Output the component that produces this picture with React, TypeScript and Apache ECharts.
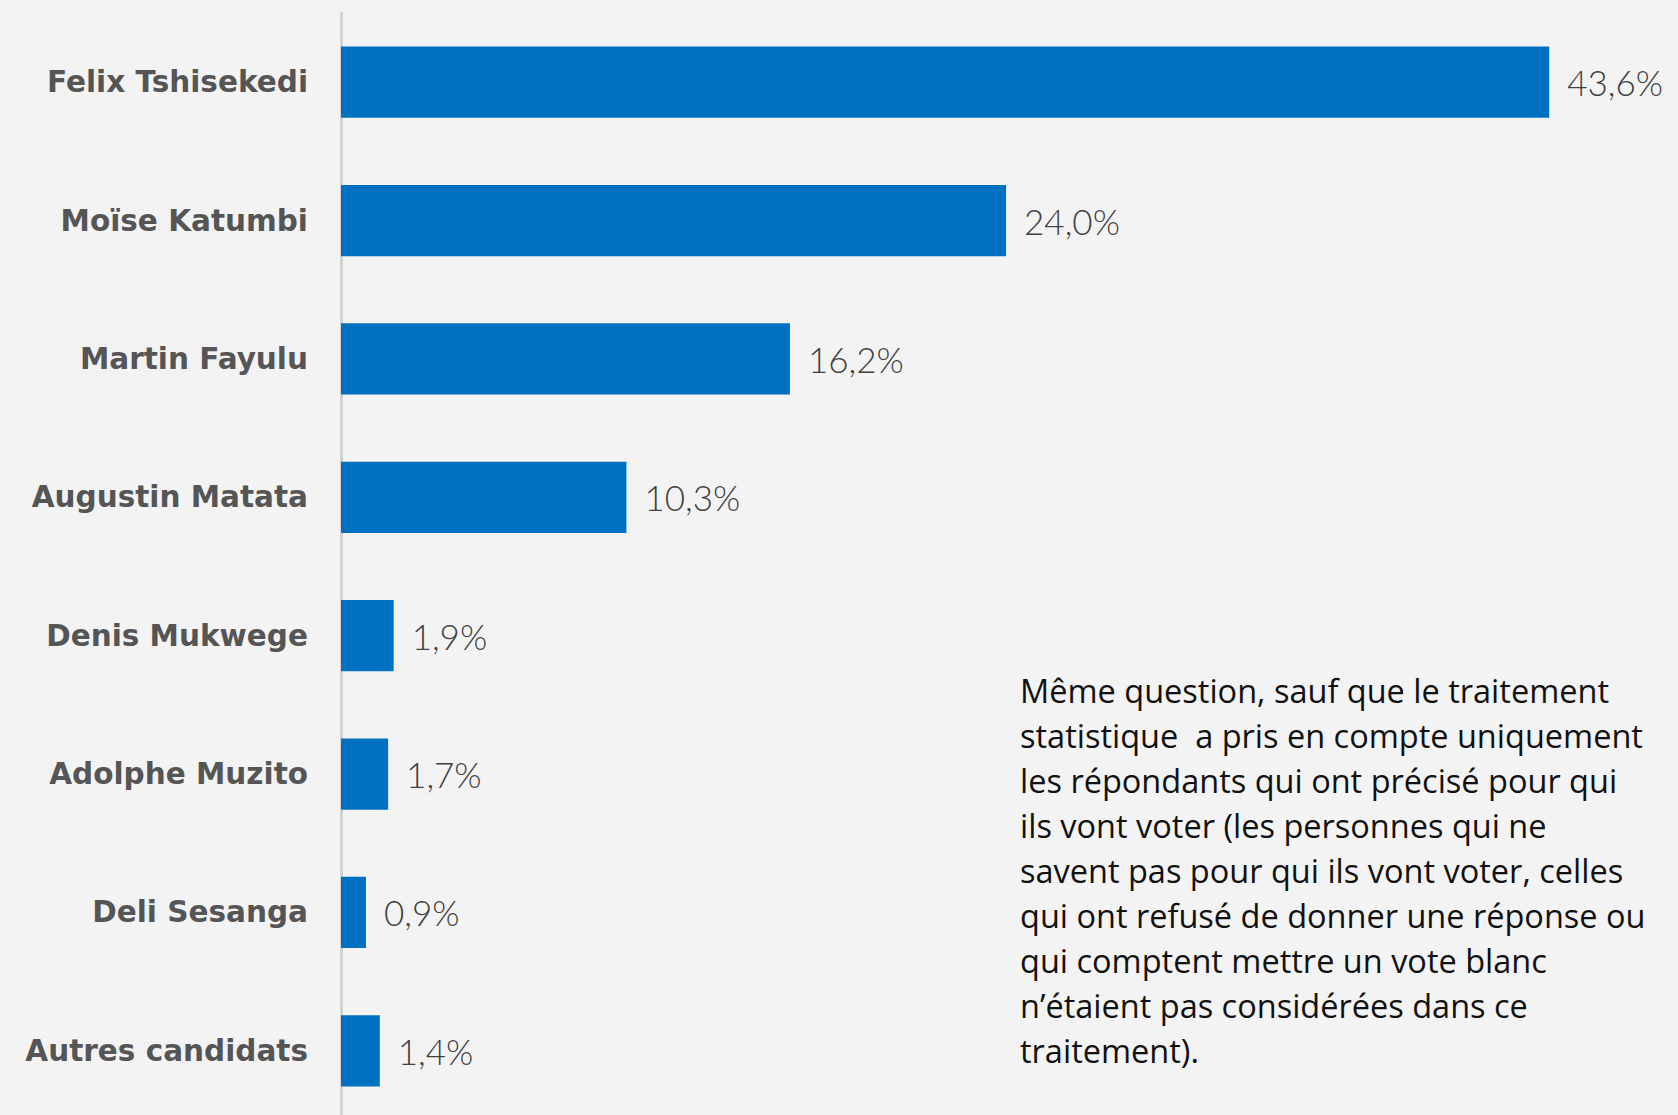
import React, { useEffect, useRef } from "react";
import * as echarts from "echarts";

const candidates = [
  "Felix Tshisekedi",
  "Moïse Katumbi",
  "Martin Fayulu",
  "Augustin Matata",
  "Denis Mukwege",
  "Adolphe Muzito",
  "Deli Sesanga",
  "Autres candidats",
];
const shares = [43.6, 24.0, 16.2, 10.3, 1.9, 1.7, 0.9, 1.4];
const noteLines = [
  "Même question, sauf que le traitement",
  "statistique  a pris en compte uniquement",
  "les répondants qui ont précisé pour qui",
  "ils vont voter (les personnes qui ne",
  "savent pas pour qui ils vont voter, celles",
  "qui ont refusé de donner une réponse ou",
  "qui comptent mettre un vote blanc",
  "n’étaient pas considérées dans ce",
  "traitement).",
];

export default function App() {
  const ref = useRef<HTMLDivElement>(null);
  useEffect(() => {
    document.body.style.margin = "0";
    const chart = echarts.init(ref.current!, null, { renderer: "svg" });
    chart.setOption({
      animation: false,
      backgroundColor: "#f3f3f3",
      grid: { left: 341, top: 13, width: 1247, height: 1107, containLabel: false },
      xAxis: {
        type: "value",
        min: 0,
        max: 45,
        show: false,
      },
      yAxis: {
        type: "category",
        data: candidates,
        inverse: true,
        axisLine: { show: true, lineStyle: { color: "#d2d2d2", width: 3 } },
        axisTick: { show: false },
        axisLabel: {
          margin: 33,
          color: "#555555",
          fontFamily: "DejaVu Sans",
          fontWeight: "bold",
          fontSize: 29.5,
        },
      },
      series: [
        {
          type: "bar",
          data: shares,
          barCategoryGap: "48.5%",
          itemStyle: { color: "#0070c0" },
          label: {
            show: true,
            position: "right",
            distance: 18,
            color: "#404040",
            fontFamily: "Lato",
            fontWeight: 300,
            fontSize: 35,
            formatter: (p: any) => p.value.toFixed(1).replace(".", ",") + "%",
          },
        },
      ],
      graphic: [
        {
          type: "text",
          left: 1020,
          top: 668,
          style: {
            text: noteLines.join("\n"),
            fontFamily: "Open Sans",
            fontSize: 32.5,
            lineHeight: 45,
            fill: "#111111",
          },
        },
      ],
    });
    return () => chart.dispose();
  }, []);
  return (
    <div style={{ width: 1678, height: 1115, overflow: "hidden", position: "relative" }}>
      <div ref={ref} style={{ width: 1678, height: 1140 }} />
    </div>
  );
}
